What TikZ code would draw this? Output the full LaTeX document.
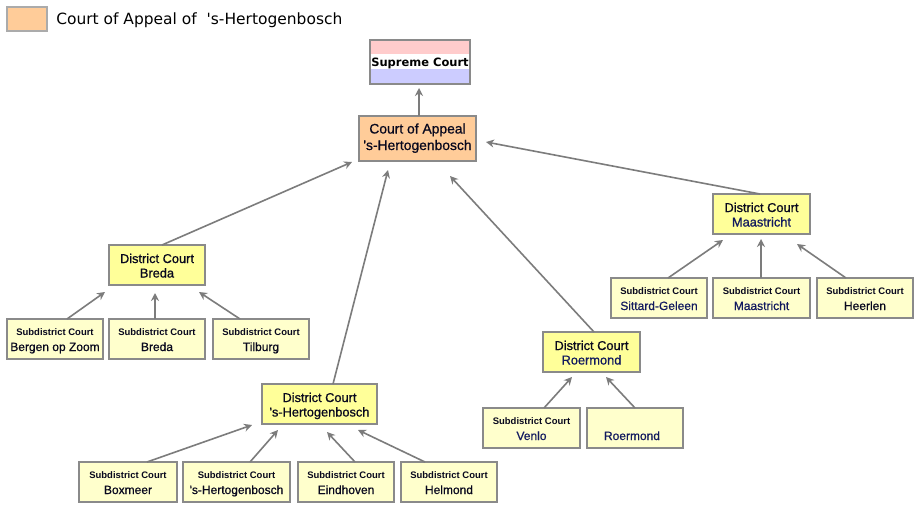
\documentclass[tikz,border=0pt]{standalone}
\usepackage{fontspec}
\usetikzlibrary{arrows.meta}
\newfontfamily\arialf[FakeBold=0.7]{Liberation Sans}
\newfontfamily\arialb{Liberation Sans}
\newfontfamily\verdf{DejaVu Sans}
\definecolor{appealfill}{HTML}{FFCC99}
\definecolor{distfill}{HTML}{FFFF99}
\definecolor{subfill}{HTML}{FFFFCC}
\definecolor{suppink}{HTML}{FFCCCC}
\definecolor{supblue}{HTML}{CCCCFF}
\definecolor{bordergray}{HTML}{8A8A8A}
\definecolor{arrowgray}{HTML}{7C7C7C}
\definecolor{legendgray}{HTML}{ABABAB}
\definecolor{txtdark}{RGB}{8,8,30}
\definecolor{txtblue}{RGB}{18,26,95}
\tikzset{
  basebox/.style={rectangle, draw=bordergray, line width=1.6pt, inner sep=0pt, outer sep=0pt},
  subbox/.style={basebox, fill=subfill, minimum height=40*0.75pt},
  distbox/.style={basebox, fill=distfill, minimum height=40*0.75pt},
  appbox/.style={basebox, fill=appealfill},
  subline/.style={anchor=base, inner sep=0pt, font=\arialb\bfseries\fontsize{7.1pt}{8pt}\selectfont, text=txtdark},
  nameline/.style={anchor=base, inner sep=0pt, font=\arialf\fontsize{9pt}{10pt}\selectfont, text=txtdark},
  distline/.style={anchor=base, inner sep=0pt, font=\arialf\fontsize{9.6pt}{11pt}\selectfont, text=txtdark},
  appline/.style={anchor=base, inner sep=0pt, font=\arialf\fontsize{10.4pt}{12pt}\selectfont, text=txtdark},
  arr/.style={draw=arrowgray, line width=1.2pt, -{Stealth[length=6pt,width=6pt]}},
}
% \SubCourt{id}{cx}{top}{width}{place}{colour}
\newcommand\SubCourt[6]{%
  \node[subbox, minimum width=#4*0.75pt] (#1) at (#2,#3+20) {};
  \node[subline] at ([shift={(0,16.5)}]#1.north) {Subdistrict Court};
  \node[nameline, text=#6] at ([shift={(0,32)}]#1.north) {#5};
}
% \DistCourt{id}{cx}{top}{width}{place}{colour}
\newcommand\DistCourt[6]{%
  \node[distbox, minimum width=#4*0.75pt] (#1) at (#2,#3+20) {};
  \node[distline] at ([shift={(0,18)}]#1.north) {District Court};
  \node[distline, text=#6] at ([shift={(0,32.5)}]#1.north) {#5};
}
\begin{document}
\begin{tikzpicture}[x=0.75pt, y=-0.75pt]
\useasboundingbox (0,0) rectangle (917,510);
\fill[white] (0,0) rectangle (917,510);

% legend
\node[rectangle, draw=legendgray, line width=2.2pt, fill=appealfill,
      minimum width=40*0.75pt, minimum height=24*0.75pt, inner sep=0pt] (legendbox) at (27,19) {};
\node[anchor=base west, inner sep=0pt, font=\verdf\fontsize{11.6pt}{13pt}\selectfont, text=black]
      (legendtext) at (56,25) {Court of Appeal of\ \ \textquotesingle s-Hertogenbosch};

% supreme court
\node[rectangle, draw=bordergray, line width=0.9pt, inner sep=0pt, outer sep=0pt,
      minimum width=100*0.75pt, minimum height=44*0.75pt,
      path picture={
        \fill[suppink] (path picture bounding box.north west) rectangle ([shift={(0,14)}]path picture bounding box.north east);
        \fill[white] ([shift={(0,14)}]path picture bounding box.north west) rectangle ([shift={(0,29)}]path picture bounding box.north east);
        \fill[supblue] ([shift={(0,29)}]path picture bounding box.north west) rectangle (path picture bounding box.south east);
      }] (sup) at (420,62) {};
\node[anchor=base, inner sep=0pt, font=\verdf\bfseries\fontsize{8.6pt}{10pt}\selectfont, text=black]
      at ([shift={(0,27)}]sup.north) {Supreme Court};

% court of appeal
\node[appbox, minimum width=117*0.75pt, minimum height=45*0.75pt] (app) at (417.5,138.5) {};
\node[appline] at ([shift={(0,17.5)}]app.north) {Court of Appeal};
\node[appline] at ([shift={(0,34)}]app.north) {\textquotesingle s-Hertogenbosch};

% district courts
\DistCourt{dbreda}{157}{245}{96}{Breda}{txtdark}
\DistCourt{dhb}{319.5}{384}{115}{\textquotesingle s-Hertogenbosch}{txtdark}
\DistCourt{dmaas}{761.5}{194}{97}{Maastricht}{txtblue}
\DistCourt{droer}{591.5}{332}{97}{Roermond}{txtblue}

% subdistrict courts
\SubCourt{sbergen}{55}{319}{96}{Bergen op Zoom}{txtdark}
\SubCourt{sbreda}{157}{319}{96}{Breda}{txtdark}
\SubCourt{stilburg}{261}{319}{96}{Tilburg}{txtdark}
\SubCourt{sboxmeer}{128}{462}{98}{Boxmeer}{txtdark}
\SubCourt{shb}{236.5}{462}{107}{\textquotesingle s-Hertogenbosch}{txtdark}
\SubCourt{seind}{346}{462}{96}{Eindhoven}{txtdark}
\SubCourt{shelm}{449}{462}{96}{Helmond}{txtdark}
\SubCourt{ssit}{659}{278}{96}{Sittard-Geleen}{txtblue}
\SubCourt{smaas}{761.5}{278}{97}{Maastricht}{txtblue}
\SubCourt{sheer}{865}{278}{96}{Heerlen}{txtdark}
\SubCourt{svenlo}{531.5}{408}{97}{Venlo}{txtblue}
\node[subbox, minimum width=96*0.75pt] (sroer) at (635,428) {};
\node[nameline, text=txtblue] at ([shift={(-3,32)}]sroer.north) {Roermond};

% connectors
\draw[arr] ([shift={(1.5,0)}]app.north) -- ([shift={(-1,4)}]sup.south);
\draw[arr] ([shift={(5,0)}]dbreda.north) -- ([shift={(-7,1)}]app.south west);
\draw[arr] ([shift={(13.5,0)}]dhb.north) -- ([shift={(-29.5,9)}]app.south);
\draw[arr] ([shift={(2.5,0)}]droer.north) -- ([shift={(32.5,15)}]app.south);
\draw[arr] ([shift={(-1.5,0)}]dmaas.north) -- ([shift={(10,3.5)}]app.east);

\draw[arr] ([shift={(12,0)}]sbergen.north) -- ([shift={(-4,7)}]dbreda.south west);
\draw[arr] ([shift={(-2,0)}]sbreda.north) -- ([shift={(-2,8)}]dbreda.south);
\draw[arr] ([shift={(-21,0)}]stilburg.north) -- ([shift={(-6,7)}]dbreda.south east);

\draw[arr] ([shift={(19,0)}]sboxmeer.north) -- ([shift={(-10,1)}]dhb.south west);
\draw[arr] ([shift={(13.5,0)}]shb.north) -- ([shift={(-41.5,6)}]dhb.south);
\draw[arr] ([shift={(9,0)}]seind.north) -- ([shift={(7.5,8)}]dhb.south);
\draw[arr] ([shift={(-24,0)}]shelm.north) -- ([shift={(38.5,6)}]dhb.south);

\draw[arr] ([shift={(9,0)}]ssit.north) -- ([shift={(10,6)}]dmaas.south west);
\draw[arr] ([shift={(-0.5,0)}]smaas.north) -- ([shift={(-0.5,5)}]dmaas.south);
\draw[arr] ([shift={(-19,0)}]sheer.north) -- ([shift={(35.5,10)}]dmaas.south);

\draw[arr] ([shift={(12.5,0)}]svenlo.north) -- ([shift={(-19.5,5)}]droer.south);
\draw[arr] (sroer.north) -- ([shift={(14.5,5)}]droer.south);
\end{tikzpicture}
\end{document}
